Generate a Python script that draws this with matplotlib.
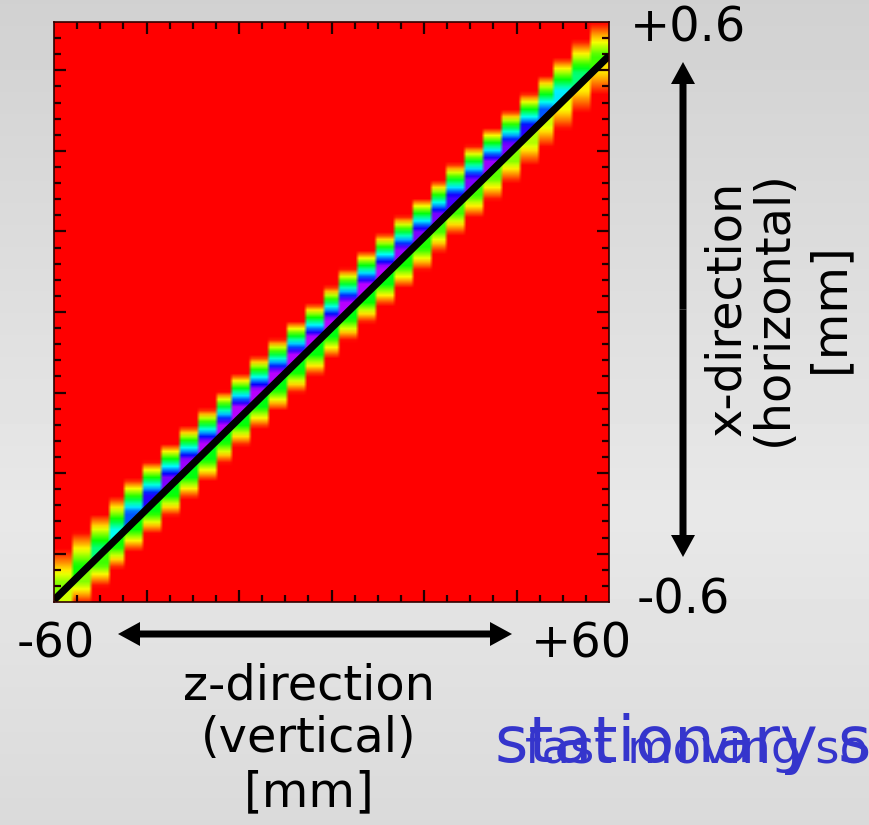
import numpy as np
import matplotlib
matplotlib.use("Agg")
import matplotlib.pyplot as plt
from matplotlib.patches import FancyArrow

# colour value of each step (hsv colormap: 0 red .. 0.83 magenta), left to right
upper_vals = [0.25, 0.33, 0.42, 0.50, 0.62, 0.70, 0.76, 0.78, 0.80, 0.80, 0.80,
              0.80, 0.80, 0.80, 0.80, 0.80, 0.80, 0.80, 0.80, 0.78, 0.76, 0.76,
              0.72, 0.76, 0.78, 0.76, 0.70, 0.62, 0.52, 0.42, 0.30]
lower_vals = [0.20, 0.25, 0.30, 0.33, 0.34, 0.35, 0.35, 0.35, 0.35, 0.35, 0.35,
              0.35, 0.35, 0.35, 0.35, 0.35, 0.35, 0.35, 0.35, 0.33, 0.32, 0.30,
              0.30, 0.30, 0.28, 0.25, 0.22, 0.20, 0.18, 0.16, 0.15]
z_lim = [-60, 60]
x_lim = [-0.6, 0.6]
line_z = [-60, 60]
line_x = [-0.596, 0.53]
ramp_up = 0.068     # mm, peak -> red above the line
ramp_down = 0.044   # mm, below the line

n_steps = len(upper_vals)
nz, nx = 150, 156
zs = z_lim[0] + (np.arange(nz) + 0.5) * (z_lim[1] - z_lim[0]) / nz
xs = x_lim[0] + (np.arange(nx) + 0.5) * (x_lim[1] - x_lim[0]) / nx
Z, X = np.meshgrid(zs, xs)

def line_at(z):
    return np.interp(z, line_z, line_x)

step_w = (z_lim[1] - z_lim[0]) / n_steps
k = np.clip(((Z - z_lim[0]) // step_w).astype(int), 0, n_steps - 1)
z0 = z_lim[0] + k * step_w
z1 = z0 + step_w
yl = line_at(Z)
ya = line_at(z1)
yb = line_at(z0)
up = np.array(upper_vals)[k]
lo = np.array(lower_vals)[k]
v_up = up * np.clip(1 - (X - ya) / ramp_up, 0, 1)
v_up = np.where(X <= ya, up, v_up)
v_lo = lo * np.clip(1 - (yb - X) / ramp_down, 0, 1)
v_lo = np.where(X >= yb, lo, v_lo)
field = np.where(X >= yl, v_up, v_lo)

fig = plt.figure(figsize=(8.69, 8.25), dpi=100)

# grey background + overlay in pixel coordinates
bg = fig.add_axes([0, 0, 1, 1])
grad_pos = [0.0, 0.62, 1.0]
grad_val = [0.82, 0.91, 0.855]
g = np.interp(np.linspace(0, 1, 200), grad_pos, grad_val)[:, None]
bg.imshow(np.repeat(g, 2, axis=1), cmap="gray", vmin=0, vmax=1, aspect="auto",
          extent=[0, 869, 825, 0], interpolation="bilinear")
bg.set_xlim(0, 869)
bg.set_ylim(825, 0)
bg.axis("off")

ax = fig.add_axes([54 / 869, (825 - 602) / 825, 555 / 869, 580 / 825])
ax.imshow(field, extent=[z_lim[0], z_lim[1], x_lim[0], x_lim[1]], origin="lower",
          aspect="auto", cmap="hsv", vmin=0, vmax=1,
          interpolation="bilinear", interpolation_stage="rgba")
ax.plot(line_z, line_x, color="black", lw=5.2, solid_capstyle="butt")
ax.set_xlim(z_lim)
ax.set_ylim(x_lim)

ax.set_xticks(np.arange(-40, 41, 20))
ax.set_xticks(np.arange(-55, 56, 5), minor=True)
ax.set_yticks(np.arange(-3, 4) / 6)
ax.set_yticks(np.arange(-17, 18) / 30, minor=True)
ax.tick_params(which="both", direction="in", top=True, right=True,
               labelbottom=False, labelleft=False, color="#200000", width=1.6)
ax.tick_params(which="major", length=8.5)
ax.tick_params(which="minor", length=5)
for s in ax.spines.values():
    s.set_color("#300000")
    s.set_linewidth(1.2)

fs = 34.5
bg.text(688, 42, "+0.6", fontsize=fs, ha="center", va="baseline")
bg.text(683, 613, "-0.6", fontsize=fs, ha="center", va="baseline")
bg.text(56, 657, "-60", fontsize=fs, ha="center", va="baseline")
bg.text(581, 657, "+60", fontsize=fs, ha="center", va="baseline")

bg.text(309, 699, "z-direction", fontsize=fs, ha="center", va="baseline")
bg.text(309, 752, "(vertical)", fontsize=fs, ha="center", va="baseline")
bg.text(309, 806, "[mm]", fontsize=fs, ha="center", va="baseline")

for xb, label in [(740, "x-direction"), (787, "(horizontal)"), (843, "[mm]")]:
    bg.text(xb, 308, label, fontsize=fs, rotation=90, rotation_mode="anchor",
            ha="center", va="baseline")

# double arrows
arr = dict(width=7, head_width=24, head_length=22, length_includes_head=True,
           color="black", lw=0)
cx = (118 + 512) / 2
bg.add_patch(FancyArrow(cx, 634, 118 - cx, 0, **arr))
bg.add_patch(FancyArrow(cx, 634, 512 - cx, 0, **arr))
cy = (62 + 557) / 2
bg.add_patch(FancyArrow(683, cy, 0, 62 - cy, **arr))
bg.add_patch(FancyArrow(683, cy, 0, 557 - cy, **arr))

# the two captions overlap and run off the right edge, as in the original slide
blue = "#3535cc"
bg.text(495, 762, "stationary source", fontsize=46, color=blue, va="baseline")
bg.text(525, 763, "fast moving source", fontsize=33.5, color=blue, va="baseline")

fig.savefig("out.png", dpi=100)
